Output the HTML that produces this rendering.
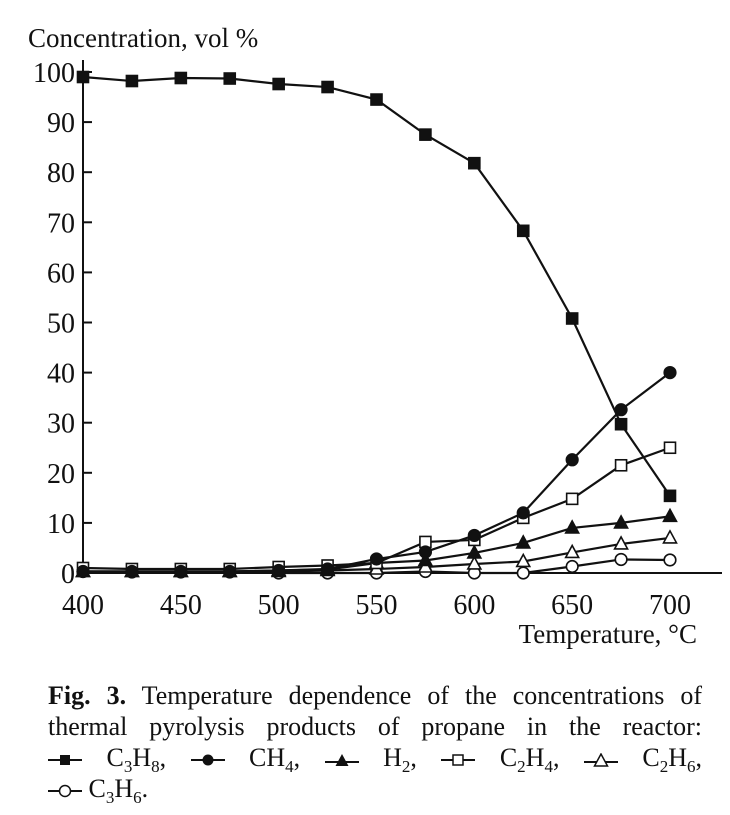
<!DOCTYPE html>
<html><head><meta charset="utf-8"><style>
body{margin:0;background:#fff;width:730px;height:815px;overflow:hidden;font-family:"Liberation Serif",serif;}
#cap{position:absolute;left:48px;top:680px;width:654px;font-size:26px;line-height:31px;color:#111;}
#cap .l{text-align:justify;text-align-last:justify;display:block;white-space:normal;}
#cap .last{text-align:left;}
#cap sub{font-size:17px;line-height:0;}
#cap svg{vertical-align:-1px;}
</style></head><body>
<svg id="chart" width="730" height="680" style="position:absolute;left:0;top:0" font-family="Liberation Serif, serif"></svg>
<div id="cap">
<div class="l"><b>Fig. 3.</b> Temperature dependence of the concentrations of</div>
<div class="l">thermal pyrolysis products of propane in the reactor:</div>
<div class="l"><svg width="34" height="14"><line x1="0" y1="7" x2="34" y2="7" stroke="#111" stroke-width="2"/><rect x="12" y="2" width="10" height="10" fill="#111"/></svg> C<sub>3</sub>H<sub>8</sub>, <svg width="34" height="14"><line x1="0" y1="7" x2="34" y2="7" stroke="#111" stroke-width="2"/><circle cx="17" cy="7" r="5.5" fill="#111"/></svg> CH<sub>4</sub>, <svg width="34" height="14"><line x1="0" y1="9" x2="34" y2="9" stroke="#111" stroke-width="2"/><polygon points="17,1 10.5,13 23.5,13" fill="#111"/></svg> H<sub>2</sub>, <svg width="34" height="14"><line x1="0" y1="7" x2="34" y2="7" stroke="#111" stroke-width="2"/><rect x="12" y="2" width="10" height="10" fill="#fff" stroke="#111" stroke-width="1.5"/></svg> C<sub>2</sub>H<sub>4</sub>, <svg width="34" height="14"><line x1="0" y1="9" x2="34" y2="9" stroke="#111" stroke-width="2"/><polygon points="17,1 10.5,13 23.5,13" fill="#fff" stroke="#111" stroke-width="1.5"/></svg> C<sub>2</sub>H<sub>6</sub>,</div>
<div class="last"><svg width="34" height="14"><line x1="0" y1="7" x2="34" y2="7" stroke="#111" stroke-width="2"/><circle cx="17" cy="7" r="5.5" fill="#fff" stroke="#111" stroke-width="1.5"/></svg> C<sub>3</sub>H<sub>6</sub>.</div>
</div>
<script>
const temps=[400,425,450,475,500,525,550,575,600,625,650,675,700];
const c3h8=[99,98.2,98.8,98.7,97.6,97,94.5,87.5,81.8,68.3,50.8,29.7,15.4];
const ch4=[0.3,0.3,0.3,0.3,0.5,0.8,2.8,4.2,7.5,12,22.6,32.6,40];
const h2=[0.3,0.3,0.3,0.3,0.5,0.7,2,2.5,4,6,9,10,11.3];
const c2h4=[1,0.8,0.8,0.8,1.2,1.5,2,6.2,6.6,11,14.8,21.5,25];
const c2h6=[0.3,0.3,0.3,0.3,0.3,0.5,0.8,1.2,1.8,2.3,4.1,5.8,7];
const c3h6=[0.3,0.2,0.2,0.2,0,0,0,0.3,0,0,1.3,2.7,2.6];
const xTicks=[400,450,500,550,600,650,700];
const yTicks=[0,10,20,30,40,50,60,70,80,90,100];
const svg=document.getElementById('chart');const NS='http://www.w3.org/2000/svg';
const X=v=>83+(v-400)*587/300, Y=v=>573-v*5.01;
function mk(t,a,p){const e=document.createElementNS(NS,t);for(const k in a)e.setAttribute(k,a[k]);(p||svg).appendChild(e);return e;}
let ax=mk('line',{x1:83,y1:60,x2:83,y2:573,stroke:'#111','stroke-width':2});

ax=mk('line',{x1:83,y1:573,x2:722,y2:573,stroke:'#111','stroke-width':2});

yTicks.forEach(v=>{mk('line',{x1:83,y1:Y(v),x2:92,y2:Y(v),stroke:'#111','stroke-width':2});
const t=mk('text',{x:75,y:Y(v)+10,'text-anchor':'end','font-size':28,fill:'#111'});t.textContent=v;
});
xTicks.forEach(v=>{const t=mk('text',{x:X(v),y:614,'text-anchor':'middle','font-size':28,fill:'#111'});t.textContent=v;
});
let t=mk('text',{x:28,y:47,'font-size':27,fill:'#111'});t.textContent='Concentration, vol %';

t=mk('text',{x:697,y:643,'text-anchor':'end','font-size':27,fill:'#111'});t.textContent='Temperature, °C';

const series=[[c3h6,'circle',0,'c3h6'],[c2h6,'tri',0,'c2h6'],[h2,'tri',1,'h2'],[c2h4,'sq',0,'c2h4'],[ch4,'circle',1,'ch4'],[c3h8,'sq',1,'c3h8']];
series.forEach(([d,s,f,n])=>{const g=mk('g',{});

mk('polyline',{points:d.map((v,i)=>X(temps[i])+','+Y(v)).join(' '),fill:'none',stroke:'#111','stroke-width':2.2},g);
d.forEach((v,i)=>{const x=X(temps[i]),y=Y(v);const st={fill:f?'#111':'#fff',stroke:'#111','stroke-width':1.6};let m;
if(s==='circle')m=mk('circle',Object.assign({cx:x,cy:y,r:5.8},st),g);
else if(s==='sq')m=mk('rect',Object.assign({x:x-5.5,y:y-5.5,width:11,height:11},st),g);
else m=mk('polygon',Object.assign({points:`${x},${y-7} ${x-6.5},${y+5} ${x+6.5},${y+5}`},st),g);
});});
</script>
</body></html>
